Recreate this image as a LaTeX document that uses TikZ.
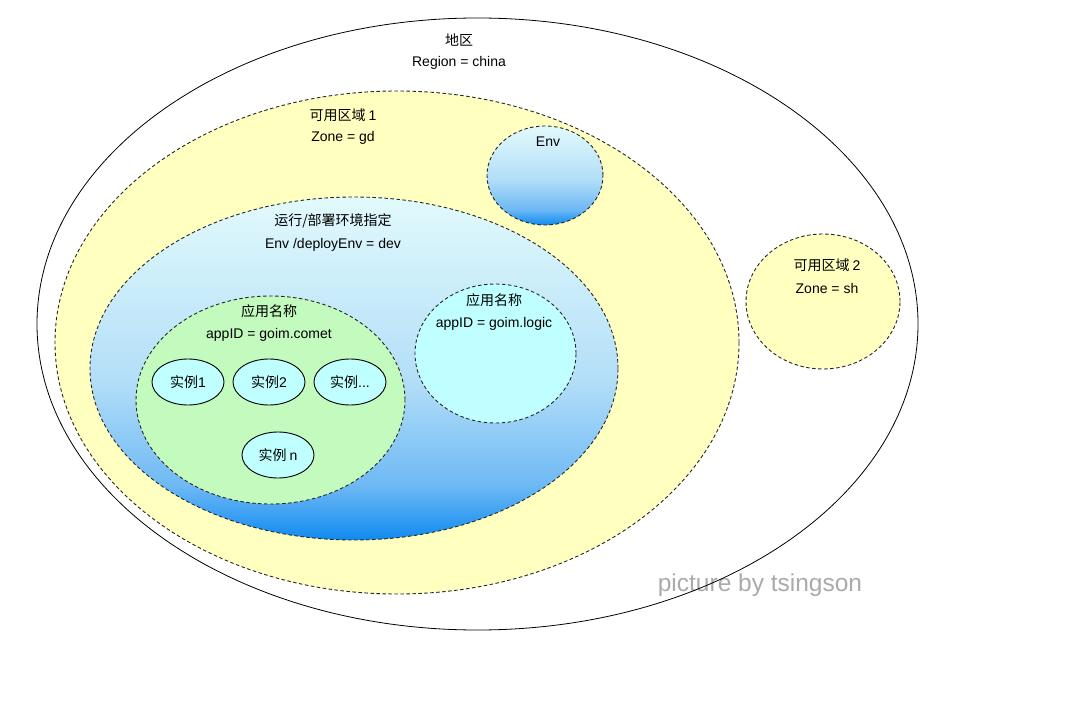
\documentclass[tikz,border=0pt]{standalone}
\usepackage{fontspec}
\setmainfont{Liberation Sans}
\newfontfamily\cjk{Noto Sans CJK SC}
\usetikzlibrary{shapes.geometric}
\definecolor{zonefill}{RGB}{255,255,192}
\definecolor{appgreen}{RGB}{195,250,190}
\definecolor{instfill}{RGB}{192,255,255}
\definecolor{envbot}{RGB}{16,138,240}
\definecolor{envlow}{RGB}{110,185,244}
\definecolor{envmid}{RGB}{178,222,248}
\definecolor{envtop}{RGB}{226,250,252}
\definecolor{markgray}{RGB}{170,170,170}
% vertical blue fade used by the environment ellipses (path spans 25bp..75bp)
\pgfdeclareverticalshading{envshade}{100bp}{%
  color(0bp)=(envbot); color(25bp)=(envbot); color(33bp)=(envlow);
  color(48bp)=(envmid); color(75bp)=(envtop); color(100bp)=(envtop)}
\tikzset{
  oval/.style={ellipse, inner sep=0pt, line width=0.8pt},
  dashedoval/.style={oval, draw=black!85, line width=0.9pt, dash pattern=on 3.5pt off 2.5pt},
  inst/.style={oval, draw=black, fill=instfill, line width=0.9pt,
    minimum width=72pt, minimum height=46pt, font=\fontsize{14}{16}\selectfont},
  txt/.style={inner sep=0pt, font=\fontsize{14}{16}\selectfont},
}
\begin{document}
\begin{tikzpicture}[x=1pt,y=-1pt]
\useasboundingbox (0,0) rectangle (1079,703);
\fill[white] (0,0) rectangle (1079,703);

% watermark sits under the region outline
\node[txt, font=\fontsize{24.5}{28}\selectfont, text=markgray] (mark) at (760,585) {picture by tsingson};

% region
\node[oval, draw=black, minimum width=881pt, minimum height=612pt] (region) at (477.5,324) {};
\node[txt] (regt1) at (459,40) {\cjk 地区};
\node[txt] (regt2) at (459,63) {Region = china};

% availability zone 1
\node[dashedoval, fill=zonefill, minimum width=684pt, minimum height=503pt] (zone1) at (397,342.5) {};
\node[txt] (z1t1) at (343,115) {\cjk 可用区域 \rmfamily 1};
\node[txt] (z1t2) at (343,138) {Zone = gd};

% small environment
\node[dashedoval, shading=envshade, minimum width=116pt, minimum height=99pt] (envs) at (545,175.5) {};
\node[txt] (envst) at (548,142) {Env};

% deploy environment
\node[dashedoval, shading=envshade, minimum width=528pt, minimum height=343pt] (env) at (354,368.5) {};
\node[txt] (envt1) at (333,221) {\cjk 运行/部署环境指定};
\node[txt] (envt2) at (333,245) {Env /deployEnv = dev};

% application goim.comet
\node[dashedoval, fill=appgreen, minimum width=269pt, minimum height=208pt] (comet) at (270.5,400) {};
\node[txt] (cmt1) at (269,311) {\cjk 应用名称};
\node[txt] (cmt2) at (269,335) {appID = goim.comet};

\node[inst] (i1) at (188,382) {\cjk 实例\rmfamily 1};
\node[inst] (i2) at (269,382) {\cjk 实例\rmfamily 2};
\node[inst] (i3) at (350,382) {\cjk 实例\rmfamily ...};
\node[inst] (in) at (278,455) {\cjk 实例 \rmfamily n};

% application goim.logic
\node[dashedoval, fill=instfill, minimum width=161pt, minimum height=139pt] (logic) at (495.5,353.5) {};
\node[txt] (lgt1) at (494,300) {\cjk 应用名称};
\node[txt] (lgt2) at (494,324) {appID = goim.logic};

% availability zone 2
\node[dashedoval, fill=zonefill, minimum width=154pt, minimum height=135pt] (zone2) at (823,301.5) {};
\node[txt] (z2t1) at (827,265) {\cjk 可用区域 \rmfamily 2};
\node[txt] (z2t2) at (827,288) {Zone = sh};
\end{tikzpicture}
\end{document}
